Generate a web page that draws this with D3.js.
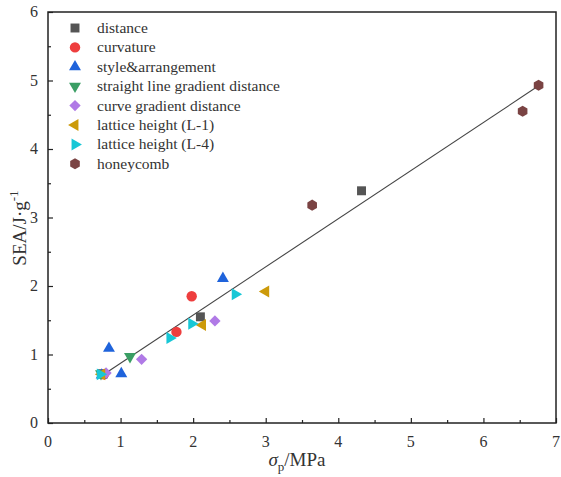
<!DOCTYPE html>
<html>
<head>
<meta charset="utf-8">
<script src="https://cdn.jsdelivr.net/npm/d3@7"></script>
<style>
  body { margin: 0; background: #fff; }
  text { font-family: "Liberation Serif", "Times New Roman", serif; fill: #333; }
</style>
</head>
<body>
<div id="chart"></div>
<script>
// series, in legend order
var seriesNames = ["distance", "curvature", "style&arrangement", "straight line gradient distance",
  "curve gradient distance", "lattice height (L-1)", "lattice height (L-4)", "honeycomb"];
var seriesColors = ["#555555", "#ee3e3e", "#1f63db", "#3a9e64", "#b07ae6", "#cc9a0a", "#17c7d6", "#7a4343"];
var seriesShapes = ["square", "circle", "up", "down", "diamond", "left", "right", "hex"];

// x = sigma_p (MPa), y = SEA (J/g)
var distanceX = [0.75, 2.10, 4.32];
var distanceY = [0.72, 1.55, 3.39];
var curvatureX = [0.77, 1.77, 1.98];
var curvatureY = [0.71, 1.33, 1.85];
var styleX = [0.74, 0.84, 1.01, 2.41];
var styleY = [0.70, 1.09, 0.72, 2.11];
var straightX = [0.73, 1.13];
var straightY = [0.72, 0.97];
var curveX = [0.80, 1.29, 2.30];
var curveY = [0.73, 0.93, 1.49];
var l1X = [0.74, 2.13, 3.00];
var l1Y = [0.71, 1.43, 1.92];
var l4X = [0.72, 1.68, 1.98, 2.58];
var l4Y = [0.71, 1.24, 1.45, 1.88];
var honeyX = [3.64, 6.54, 6.76];
var honeyY = [3.18, 4.55, 4.93];

var seriesX = [distanceX, curvatureX, styleX, straightX, curveX, l1X, l4X, honeyX];
var seriesY = [distanceY, curvatureY, styleY, straightY, curveY, l1Y, l4Y, honeyY];

// linear fit
var fitSlope = 0.703, fitIntercept = 0.17;
var fitRange = [0.74, 6.76];

var xTicks = [0, 1, 2, 3, 4, 5, 6, 7];
var yTicks = [0, 1, 2, 3, 4, 5, 6];

var width = 561, height = 477;
var margin = {top: 12, right: 5, bottom: 54, left: 48};

var svg = d3.select("#chart").append("svg")
    .attr("width", width)
    .attr("height", height);

var x = d3.scaleLinear().domain([0, 7]).range([margin.left, width - margin.right]);
var y = d3.scaleLinear().domain([0, 6]).range([height - margin.bottom, margin.top]);

var hexSymbol = {
  draw: function(context, size) {
    var r = Math.sqrt(size / (1.5 * Math.sqrt(3)));
    for (var i = 0; i < 6; i++) {
      var a = Math.PI / 3 * i + Math.PI / 6;
      if (i == 0) context.moveTo(r * Math.cos(a), r * Math.sin(a));
      else context.lineTo(r * Math.cos(a), r * Math.sin(a));
    }
    context.closePath();
  }
};

function symbolPath(shape) {
  if (shape == "square") return d3.symbol(d3.symbolSquare, 80)();
  if (shape == "circle") return d3.symbol(d3.symbolCircle, 85)();
  if (shape == "diamond") return d3.symbol(d3.symbolSquare, 64)();
  if (shape == "hex") return d3.symbol(hexSymbol, 80)();
  return d3.symbol(d3.symbolTriangle, 62)();
}
function symbolRotate(shape) {
  return {up: 0, down: 180, left: -90, right: 90, diamond: 45}[shape] || 0;
}

// axes with inward ticks
var xAxis = d3.axisBottom(x).tickValues(d3.range(0, 7.01, 0.5)).tickSize(-5).tickFormat("");
var gx = svg.append("g")
    .attr("transform", "translate(0," + y(0) + ")")
    .call(xAxis);
gx.selectAll(".tick line").attr("y2", function(d) { return d % 1 ? -3 : -5; });

var yAxis = d3.axisLeft(y).tickValues(d3.range(0, 6.01, 0.5)).tickSize(-5).tickFormat("");
var gy = svg.append("g")
    .attr("transform", "translate(" + x(0) + ",0)")
    .call(yAxis);
gy.selectAll(".tick line").attr("x2", function(d) { return d % 1 ? 3 : 5; });

svg.selectAll(".domain").remove();
svg.selectAll(".tick line").attr("stroke", "#222").attr("stroke-width", 1.2);

svg.append("rect")
    .attr("x", x(0)).attr("y", y(6))
    .attr("width", x(7) - x(0)).attr("height", y(0) - y(6))
    .attr("fill", "none").attr("stroke", "#222").attr("stroke-width", 1.5);

svg.selectAll(".xlab")
  .data(xTicks)
  .enter().append("text")
    .attr("x", function(d) { return x(d); })
    .attr("y", y(0) + 24)
    .attr("text-anchor", "middle")
    .style("font-size", "16px")
    .text(function(d) { return d; });

svg.selectAll(".ylab")
  .data(yTicks)
  .enter().append("text")
    .attr("x", x(0) - 10)
    .attr("y", function(d) { return y(d) + 5; })
    .attr("text-anchor", "end")
    .style("font-size", "16px")
    .text(function(d) { return d; });

// axis titles
var xt = svg.append("text")
    .attr("x", 297).attr("y", 466)
    .attr("text-anchor", "middle")
    .style("font-size", "19px");
xt.append("tspan").style("font-style", "italic").text("σ");
xt.append("tspan").attr("dy", 5).style("font-size", "13px").text("p");
xt.append("tspan").attr("dy", -5).text("/MPa");

var yt = svg.append("text")
    .attr("transform", "translate(26,228) rotate(-90)")
    .attr("text-anchor", "middle")
    .style("font-size", "19px");
yt.append("tspan").text("SEA/J·g");
yt.append("tspan").attr("dy", -8).style("font-size", "13px").text("-1");

// fit line
svg.append("line")
    .attr("x1", x(fitRange[0])).attr("y1", y(fitSlope * fitRange[0] + fitIntercept))
    .attr("x2", x(fitRange[1])).attr("y2", y(fitSlope * fitRange[1] + fitIntercept))
    .attr("stroke", "#444").attr("stroke-width", 1.1);

// points
seriesNames.forEach(function(name, i) {
  var pts = seriesX[i].map(function(v, j) { return [v, seriesY[i][j]]; });
  svg.append("g").selectAll("path")
    .data(pts)
    .enter().append("path")
      .attr("d", symbolPath(seriesShapes[i]))
      .attr("transform", function(d) {
        return "translate(" + x(d[0]) + "," + y(d[1]) + ") rotate(" + symbolRotate(seriesShapes[i]) + ")";
      })
      .attr("fill", seriesColors[i]);
});

// legend
var legend = svg.append("g").selectAll("g")
  .data(seriesNames)
  .enter().append("g")
    .attr("transform", function(d, i) { return "translate(75," + (28 + i * 19.4) + ")"; });

legend.append("path")
    .attr("d", function(d, i) { return symbolPath(seriesShapes[i]); })
    .attr("transform", function(d, i) { return "rotate(" + symbolRotate(seriesShapes[i]) + ")"; })
    .attr("fill", function(d, i) { return seriesColors[i]; });

legend.append("text")
    .attr("x", 22)
    .attr("y", 5)
    .style("font-size", "15.5px")
    .text(function(d) { return d; });
</script>
</body>
</html>
